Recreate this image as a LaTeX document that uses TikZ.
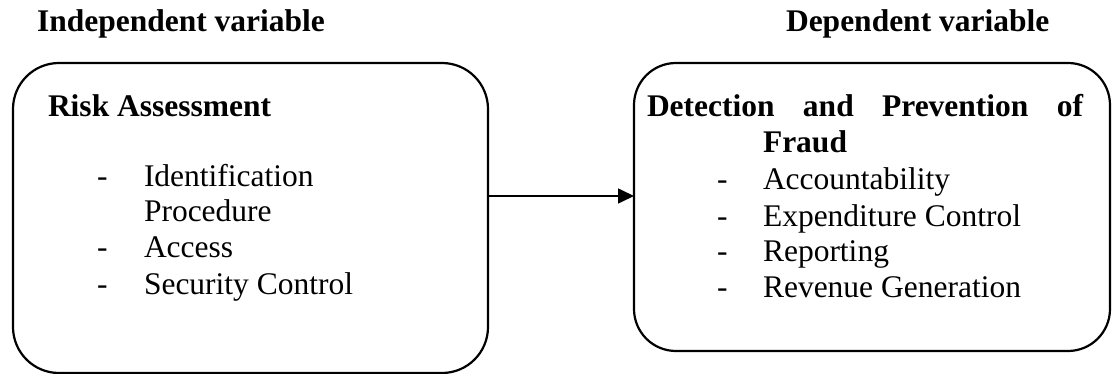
\documentclass[tikz,border=0pt]{standalone}
\usepackage{fontspec}
\setmainfont{Liberation Serif}
\usetikzlibrary{arrows.meta}
\tikzset{
  frame/.style={draw=black, line width=2.2pt, inner sep=0pt, outer sep=0pt},
  txt/.style={inner sep=0pt, outer sep=0pt, anchor=base west, font=\fontsize{31.5}{36}\selectfont},
  btxt/.style={txt, font=\fontsize{31.5}{36}\selectfont\bfseries},
  conn/.style={line width=1.6pt, -{Triangle[length=16pt,width=15pt]}}
}
\begin{document}
\begin{tikzpicture}[x=1pt,y=-1pt]
\useasboundingbox (0,0) rectangle (1112,374);
% headings
\node[btxt] (hin) at (37,32) {Independent variable};
\node[btxt] (hdep) at (786,32) {Dependent variable};
% boxes
\node[frame, rounded corners=46pt, minimum width=475pt, minimum height=310pt] (L) at (250.5,218) {};
\node[frame, rounded corners=42pt, minimum width=476pt, minimum height=288pt] (R) at (872,207) {};
% left content
\node[btxt] (ra) at (48,117) {Risk Assessment};
\node[txt] (d1) at (97,187) {-};
\node[txt] (i1) at (144,187) {Identification};
\node[txt] (i1b) at (144,222) {Procedure};
\node[txt] (d2) at (97,258) {-};
\node[txt] (i2) at (144,258) {Access};
\node[txt] (d3) at (97,295) {-};
\node[txt] (i3) at (144,295) {Security Control};
% right content
\node[btxt] (dp) at (647,117) {\makebox[436pt][s]{Detection and Prevention of}};
\node[btxt] (fr) at (763,153) {Fraud};
\node[txt] (e1) at (717,190) {-};
\node[txt] (j1) at (763,190) {Accountability};
\node[txt] (e2) at (717,227) {-};
\node[txt] (j2) at (763,227) {Expenditure Control};
\node[txt] (e3) at (717,262) {-};
\node[txt] (j3) at (763,262) {Reporting};
\node[txt] (e4) at (717,298) {-};
\node[txt] (j4) at (763,298) {Revenue Generation};
% connector
\coordinate (ay) at (0,196);
\draw[conn] (L.east |- ay) -- (R.west |- ay);
\end{tikzpicture}
\end{document}
